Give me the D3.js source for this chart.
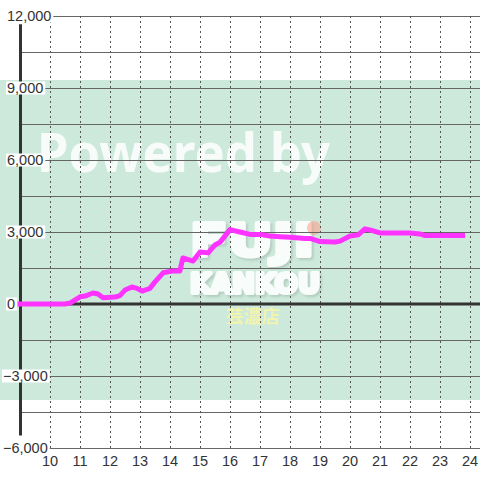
<!DOCTYPE html>
<html lang="ja">
<head>
  <meta charset="UTF-8">
  <title>差枚グラフ</title>
  <script src="https://d3js.org/d3.v7.min.js"></script>
  <style>
    html, body { margin: 0; padding: 0; background: #fff; }
    svg { display: block; }
  </style>
</head>
<body>
  <svg></svg>
<script>
  // 時刻 (時) と差枚
  const hours = [9.0, 10.5, 10.67, 11.0, 11.17, 11.43, 11.6, 11.77, 12.17, 12.33, 12.5, 12.73, 12.9,
    13.07, 13.33, 13.5, 13.77, 14.1, 14.33, 14.43, 14.77, 15.0, 15.27, 15.5, 15.67, 16.0, 16.33,
    16.67, 17.0, 17.33, 17.67, 18.0, 18.5, 18.67, 19.0, 19.5, 19.67, 20.0, 20.27, 20.5, 20.77,
    21.0, 22.0, 22.33, 22.5, 23.75];
  const values = [0, 0, 40, 300, 330, 460, 420, 260, 290, 350, 580, 710, 650,
    540, 650, 920, 1300, 1380, 1380, 1920, 1790, 2170, 2130, 2460, 2580, 3100, 3000,
    2900, 2900, 2830, 2800, 2780, 2730, 2730, 2600, 2580, 2620, 2830, 2880, 3130, 3050,
    2960, 2960, 2920, 2850, 2850];

  const xTicks = [10, 11, 12, 13, 14, 15, 16, 17, 18, 19, 20, 21, 22, 23, 24];
  const gridValues = [-6000, -4500, -3000, -1500, 0, 1500, 3000, 4500, 6000, 7500, 9000, 10500, 12000];
  const labelValues = [12000, 9000, 6000, 3000, 0, -3000, -6000];
  const band = [-4000, 9333];

  const W = 480, H = 480;
  const svg = d3.select("svg").attr("width", W).attr("height", H);

  const x = d3.scaleLinear().domain([9, 24]).range([20, 470]);
  const y = d3.scaleLinear().domain([-6000, 12000]).range([448, 16]);

  // ロゴ用の影
  svg.append("defs").append("filter")
    .attr("id", "shadow")
    .attr("x", "-10%").attr("y", "-20%").attr("width", "130%").attr("height", "150%")
    .append("feDropShadow")
    .attr("dx", 2).attr("dy", 2).attr("stdDeviation", 1)
    .attr("flood-color", "#9fb5aa").attr("flood-opacity", 0.6);

  // 背景の帯
  svg.append("rect")
    .attr("x", 0).attr("width", W)
    .attr("y", y(band[1])).attr("height", y(band[0]) - y(band[1]))
    .attr("fill", "#cce9db");

  // 透かし
  const wm = svg.append("g");
  wm.append("text")
    .attr("x", 37).attr("y", 172)
    .attr("textLength", 293).attr("lengthAdjust", "spacingAndGlyphs")
    .attr("font-family", "'Noto Sans', 'Open Sans', sans-serif")
    .attr("font-weight", 700).attr("font-size", 54)
    .attr("fill", "#ffffff").attr("opacity", 0.85)
    .text("Powered by");

  const logo = [
    {t: "FUJI", y: 256, size: 44, len: 124},
    {t: "KANKOU", y: 293, size: 27, len: 130}
  ];
  wm.append("g")
    .attr("filter", "url(#shadow)")
    .attr("opacity", 0.88)
    .selectAll("text")
    .data(logo)
    .join("text")
    .attr("x", 190).attr("y", d => d.y)
    .attr("textLength", d => d.len).attr("lengthAdjust", "spacingAndGlyphs")
    .attr("font-family", "'DejaVu Sans', sans-serif")
    .attr("font-weight", 700).attr("font-size", d => d.size)
    .attr("fill", "#fff").attr("stroke", "#fff").attr("stroke-width", 4)
    .attr("stroke-linejoin", "round")
    .text(d => d.t);
  wm.append("circle")
    .attr("cx", 314).attr("cy", 228).attr("r", 7)
    .attr("fill", "#ff9a8a").attr("opacity", 0.55);
  wm.append("text")
    .attr("x", 253).attr("y", 323)
    .attr("text-anchor", "middle")
    .attr("font-family", "'Noto Sans CJK JP', sans-serif")
    .attr("font-weight", 700).attr("font-size", 18)
    .attr("fill", "#fff8a0").attr("opacity", 0.75)
    .text("芸濃店");

  // 横のグリッド
  svg.append("g").selectAll("line")
    .data(gridValues)
    .join("line")
    .attr("x1", x(9)).attr("x2", W)
    .attr("y1", d => y(d) + 0.5).attr("y2", d => y(d) + 0.5)
    .attr("stroke", "#666").attr("stroke-width", 1);

  // 縦の点線
  svg.append("g").selectAll("line")
    .data(xTicks)
    .join("line")
    .attr("x1", d => x(d) + 0.5).attr("x2", d => x(d) + 0.5)
    .attr("y1", y(12000)).attr("y2", y(-6000))
    .attr("stroke", "#555").attr("stroke-width", 1)
    .attr("stroke-dasharray", "2,3");

  // ゼロ線と縦軸
  svg.append("line")
    .attr("x1", x(9)).attr("x2", W)
    .attr("y1", y(0)).attr("y2", y(0))
    .attr("stroke", "#333").attr("stroke-width", 3);
  svg.append("line")
    .attr("x1", x(9) + 0.5).attr("x2", x(9) + 0.5)
    .attr("y1", y(11660)).attr("y2", y(-5480))
    .attr("stroke", "#333").attr("stroke-width", 3);

  // 差枚の線
  const line = d3.line()
    .x((d, i) => x(hours[i]))
    .y(d => y(d));
  svg.append("path")
    .datum(values)
    .attr("d", line)
    .attr("fill", "none")
    .attr("stroke", "#ff33ff")
    .attr("stroke-width", 5)
    .attr("stroke-linejoin", "round")
    .attr("stroke-linecap", "square");

  // 縦軸ラベル (白い背景付き)
  const fmt = d3.format(",");
  const lab = svg.append("g")
    .attr("font-family", "'Liberation Sans', Arial, sans-serif")
    .attr("font-size", 14.5)
    .attr("fill", "#333");
  labelValues.forEach(v => {
    const t = lab.append("text")
      .attr("x", v < 0 ? 3 : 7)
      .attr("y", y(v))
      .attr("dy", "0.36em")
      .text(fmt(v));
    const b = t.node().getBBox();
    lab.insert("rect", "text")
      .attr("x", b.x - 1).attr("y", y(v) - 6.5)
      .attr("width", b.width + 3).attr("height", 13)
      .attr("fill", "#fff");
  });

  // 横軸ラベル
  svg.append("g")
    .attr("font-family", "'Liberation Sans', Arial, sans-serif")
    .attr("font-size", 14.5)
    .attr("fill", "#333")
    .selectAll("text")
    .data(xTicks)
    .join("text")
    .attr("x", d => x(d))
    .attr("y", 466)
    .attr("text-anchor", "middle")
    .text(d => d);
</script>
</body>
</html>
